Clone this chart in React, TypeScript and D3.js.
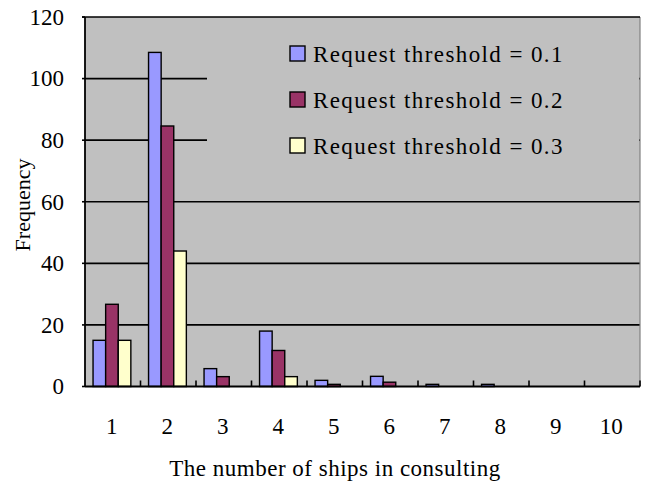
import React from "react";
import * as d3 from "d3";

// Number of ships taking part in a consultation
const categories = ["1", "2", "3", "4", "5", "6", "7", "8", "9", "10"];
const seriesNames = [
  "Request threshold = 0.1",
  "Request threshold = 0.2",
  "Request threshold = 0.3",
];
const threshold01 = [15, 108.5, 5.8, 18, 2, 3.3, 0.7, 0.7, 0, 0];
const threshold02 = [26.7, 84.6, 3.2, 11.7, 0.7, 1.4, 0, 0, 0, 0];
const threshold03 = [15, 44, 0, 3.2, 0, 0, 0, 0, 0, 0];
const yTicks = [0, 20, 40, 60, 80, 100, 120];

const seriesColors = ["#9999FF", "#993366", "#FFFFCC"];
const FONT = "'Liberation Serif', 'Times New Roman', serif";

export default function App() {
  const width = 647;
  const height = 486;
  const left = 85;
  const right = 640;
  const top = 17;
  const bottom = 386.5;

  const series = [threshold01, threshold02, threshold03];

  const x0 = d3.scaleBand<string>().domain(categories).range([left, right]);
  const barW = 12.6;
  const groupW = barW * series.length;
  const x1 = d3
    .scaleBand<number>()
    .domain(d3.range(series.length))
    .range([(x0.bandwidth() - groupW) / 2 - 0.8, (x0.bandwidth() + groupW) / 2 - 0.8]);
  const y = d3.scaleLinear().domain([0, 120]).range([bottom, top]);

  const legendX = 290;
  const legendY = [46, 92, 138];

  return (
    <svg
      width={width}
      height={height}
      style={{ position: "absolute", left: 0, top: 0 }}
      fontFamily={FONT}
    >
      <rect x={0} y={0} width={width} height={height} fill="#FFFFFF" />
      {/* plot area */}
      <rect x={left} y={top} width={right - left} height={bottom - top} fill="#C0C0C0" />
      {/* gridlines */}
      {yTicks.slice(1, -1).map((t) => (
        <line key={t} x1={left} x2={right} y1={y(t)} y2={y(t)} stroke="#000" strokeWidth={1.6} />
      ))}
      {/* legend panel covering the gridlines behind it */}
      <rect x={207} y={top + 1} width={right - 207 - 1} height={170} fill="#C0C0C0" />
      {/* right border */}
      <line x1={right} x2={right} y1={top} y2={bottom} stroke="#808080" strokeWidth={1.2} />
      {/* top border */}
      <line x1={left - 3} x2={right} y1={top} y2={top} stroke="#000" strokeWidth={1.6} />

      {/* bars */}
      {categories.map((c, ci) => (
        <g key={c} transform={`translate(${x0(c)},0)`}>
          {series.map((s, si) =>
            s[ci] > 0 ? (
              <rect
                key={si}
                x={x1(si)}
                y={y(s[ci])}
                width={barW}
                height={bottom - y(s[ci])}
                fill={seriesColors[si]}
                stroke="#000"
                strokeWidth={1.4}
              />
            ) : null
          )}
        </g>
      ))}

      {/* y axis */}
      <line x1={left} x2={left} y1={top} y2={bottom} stroke="#000" strokeWidth={1.8} />
      {yTicks.map((t) => (
        <g key={t}>
          <line x1={left - 3} x2={left} y1={y(t)} y2={y(t)} stroke="#000" strokeWidth={1.6} />
          <text
            x={64}
            y={y(t)}
            dy="0.34em"
            textAnchor="end"
            fontSize={23}
            fill="#000"
          >
            {t}
          </text>
        </g>
      ))}

      {/* x axis */}
      <line x1={left} x2={right} y1={bottom} y2={bottom} stroke="#000" strokeWidth={1.8} />
      {categories.map((c, i) => (
        <g key={c}>
          {i > 0 && (
            <line
              x1={x0(c)!}
              x2={x0(c)!}
              y1={bottom}
              y2={bottom - 6}
              stroke="#000"
              strokeWidth={1.6}
            />
          )}
          <text
            x={x0(c)! + x0.bandwidth() / 2 - 1}
            y={434}
            textAnchor="middle"
            fontSize={23}
            fill="#000"
          >
            {c}
          </text>
        </g>
      ))}
      <line x1={right} x2={right} y1={bottom} y2={bottom - 6} stroke="#000" strokeWidth={1.6} />

      {/* axis titles */}
      <text
        transform={`translate(30,205) rotate(-90)`}
        textAnchor="middle"
        fontSize={22}
        fill="#000"
      >
        Frequency
      </text>
      <text x={335} y={476} textAnchor="middle" fontSize={23} letterSpacing={0.5} fill="#000">
        The number of ships in consulting
      </text>

      {/* legend */}
      {seriesNames.map((name, i) => (
        <g key={name}>
          <rect
            x={legendX}
            y={legendY[i]}
            width={15}
            height={15}
            fill={seriesColors[i]}
            stroke="#000"
            strokeWidth={1.4}
          />
          <text x={313} y={legendY[i] + 15.5} fontSize={23} letterSpacing={1.4} fill="#000">
            {name}
          </text>
        </g>
      ))}
    </svg>
  );
}
